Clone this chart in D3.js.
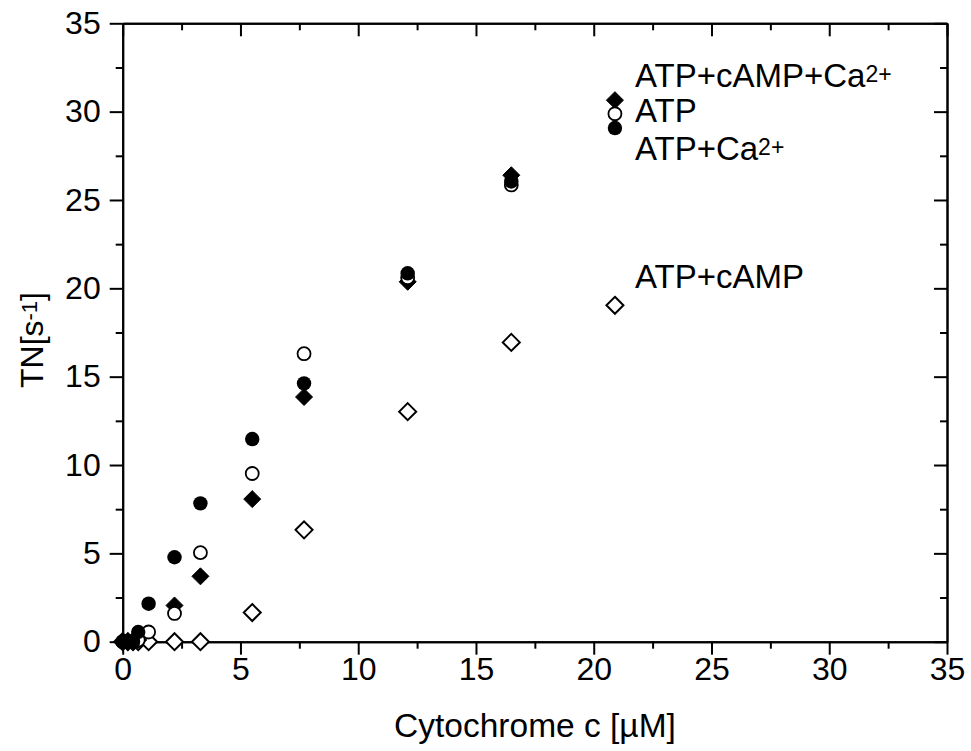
<!DOCTYPE html>
<html><head><meta charset="utf-8">
<script src="https://cdn.jsdelivr.net/npm/d3@7"></script>
<style>
body{margin:0;background:#fff;}
svg{font-family:"Liberation Sans",Arial,sans-serif;}
</style></head>
<body><svg id="c" width="971" height="751"></svg>
<script>
// ---- data ----
const xTicks = [0,5,10,15,20,25,30,35];
const yTicks = [0,5,10,15,20,25,30,35];
const xMinor = [2.5,7.5,12.5,17.5,22.5,27.5,32.5];
const yMinor = [2.5,7.5,12.5,17.5,22.5,27.5,32.5];

// ATP+cAMP (open diamonds)
const campX = [0,0.22,0.44,0.66,1.1,2.2,3.3,5.5,7.7,12.1,16.5,20.9];
const campY = [0,0,0,0,0,0,0,1.65,6.33,13.02,16.94,19.04];
// ATP+cAMP+Ca2+ (filled diamonds)
const campCaX = [0,0.22,0.44,0.66,2.2,3.3,5.5,7.7,12.1,16.5,20.9];
const campCaY = [0,0,0,0.1,2.05,3.7,8.07,13.85,20.37,26.4,30.65];
// ATP (open circles)
const atpX = [0,0.22,0.44,0.66,1.1,2.2,3.3,5.5,7.7,12.1,16.5,20.9];
const atpY = [0,0,0,0.1,0.55,1.6,5.04,9.52,16.3,20.6,25.85,29.88];
// ATP+Ca2+ (filled circles)
const caX = [0,0.22,0.44,0.66,1.1,2.2,3.3,5.5,7.7,12.1,16.5,20.9];
const caY = [0,0,0,0.55,2.15,4.78,7.83,11.47,14.62,20.85,26.05,29.07];

const labelText = ["ATP+cAMP+Ca","ATP","ATP+Ca","ATP+cAMP"];
const labelSup = ["2+","","2+",""];
const labelX = [20.9,20.9,20.9,20.9];
const labelY = [30.65,29.88,29.07,19.04];

// ---- chart ----
const svg = d3.select("#c");
const x = d3.scaleLinear().domain([0,35]).range([122.7,947]);
const y = d3.scaleLinear().domain([0,35]).range([641.7,23.3]);

function styleAxis(g){
  g.selectAll(".domain").attr("stroke","#000").attr("stroke-width",2);
  g.selectAll(".tick line").attr("stroke","#000").attr("stroke-width",2);
  g.selectAll(".tick text").attr("fill","#000").style("font-size","32px").style("font-family","'Liberation Sans',Arial,sans-serif");
}
const pBottom = y(0), pTop = y(35), pLeft = x(0), pRight = x(35);

// minor ticks
svg.append("g").attr("transform",`translate(0,${pBottom})`)
  .call(d3.axisBottom(x).tickValues(xMinor).tickSize(7).tickSizeOuter(0).tickFormat(""))
  .call(styleAxis);
svg.append("g").attr("transform",`translate(0,${pTop})`)
  .call(d3.axisTop(x).tickValues(xMinor).tickSize(-7).tickSizeOuter(0).tickFormat(""))
  .call(styleAxis);
svg.append("g").attr("transform",`translate(${pLeft},0)`)
  .call(d3.axisLeft(y).tickValues(yMinor).tickSize(7).tickSizeOuter(0).tickFormat(""))
  .call(styleAxis);
svg.append("g").attr("transform",`translate(${pRight},0)`)
  .call(d3.axisRight(y).tickValues(yMinor).tickSize(-7).tickSizeOuter(0).tickFormat(""))
  .call(styleAxis);

// major ticks
svg.append("g").attr("transform",`translate(0,${pBottom})`)
  .call(d3.axisBottom(x).tickValues(xTicks).tickSize(13).tickSizeOuter(0).tickPadding(3).tickFormat(d3.format("d")))
  .call(styleAxis);
svg.append("g").attr("transform",`translate(0,${pTop})`)
  .call(d3.axisTop(x).tickValues(xTicks).tickSize(-13).tickSizeOuter(0).tickFormat(""))
  .call(styleAxis);
svg.append("g").attr("transform",`translate(${pLeft},0)`)
  .call(d3.axisLeft(y).tickValues(yTicks).tickSize(13).tickSizeOuter(0).tickPadding(9).tickFormat(d3.format("d")))
  .call(styleAxis);
svg.append("g").attr("transform",`translate(${pRight},0)`)
  .call(d3.axisRight(y).tickValues(yTicks).tickSize(-13).tickSizeOuter(0).tickFormat(""))
  .call(styleAxis);

// axis titles
svg.append("text").attr("x",535).attr("y",737).attr("text-anchor","middle")
  .style("font-size","33.5px").text("Cytochrome c [µM]");
const yt = svg.append("text").attr("transform","translate(43,340) rotate(-90)")
  .attr("text-anchor","middle").style("font-size","32px");
yt.append("tspan").text("TN[s");
yt.append("tspan").attr("dy",-6).style("font-size","22px").text("-1");
yt.append("tspan").attr("dy",6).text("]");

// markers
const diamondPath = "M0,-8.5L8.5,0L0,8.5L-8.5,0Z";
const plot = svg.append("g");
plot.selectAll(".od").data(d3.zip(campX,campY)).join("path")
  .attr("d",diamondPath).attr("transform",d=>`translate(${x(d[0])},${y(d[1])})`)
  .attr("fill","#fff").attr("stroke","#000").attr("stroke-width",2);
plot.selectAll(".fd").data(d3.zip(campCaX,campCaY)).join("path")
  .attr("d",diamondPath).attr("transform",d=>`translate(${x(d[0])},${y(d[1])})`)
  .attr("fill","#000").attr("stroke","#000").attr("stroke-width",1);
plot.selectAll(".oc").data(d3.zip(atpX,atpY)).join("circle")
  .attr("cx",d=>x(d[0])).attr("cy",d=>y(d[1])).attr("r",6.5)
  .attr("fill","#fff").attr("stroke","#000").attr("stroke-width",1.8);
plot.selectAll(".fc").data(d3.zip(caX,caY)).join("circle")
  .attr("cx",d=>x(d[0])).attr("cy",d=>y(d[1])).attr("r",7.2)
  .attr("fill","#000");

// labels
const lblOffsets = [[20,-13.5],[20,8.1],[20,32.1],[20,-17.4]];
labelText.forEach((txt,i)=>{
  const t = svg.append("text").attr("x",x(labelX[i])+lblOffsets[i][0]).attr("y",y(labelY[i])+lblOffsets[i][1])
    .style("font-size","33px");
  t.append("tspan").text(txt);
  if(labelSup[i]){ t.append("tspan").attr("dy",-5).style("font-size","23px").text(labelSup[i]); }
});
</script></body></html>
